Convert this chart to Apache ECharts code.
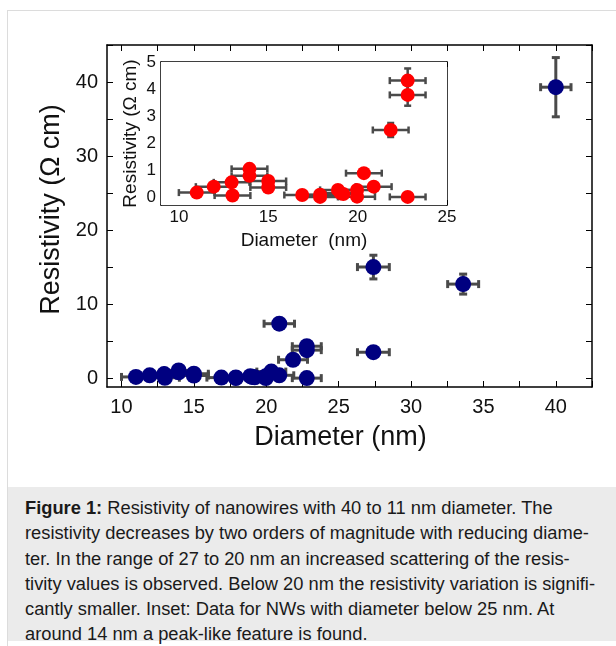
<!DOCTYPE html>
<html>
<head>
<meta charset="utf-8">
<script src="https://cdn.jsdelivr.net/npm/echarts@6/dist/echarts.min.js"></script>
<style>
  html, body { margin: 0; padding: 0; background: #fff; }
  #frame { position: absolute; left: 7px; top: 10px; width: 620px; height: 640px; border-left: 1px solid #dcdcdc; border-top: 1px solid #dcdcdc; }
  #chart { position: absolute; left: 0; top: 0; width: 616px; height: 484px; }
  #caption { position: absolute; left: 8px; top: 487px; width: 608px; height: 154px; background: #ebebeb;
    font-family: "Liberation Sans", Arial, sans-serif; font-size: 18.3px; line-height: 25.3px; color: #1a1a1a; }
  #caption div { position: absolute; left: 17px; top: 8px; white-space: nowrap; }
</style>
</head>
<body>
<div id="frame"></div>
<div id="chart"></div>
<div id="caption"><div><b>Figure 1:</b> Resistivity of nanowires with 40 to 11 nm diameter. The<br>resistivity decreases by two orders of magnitude with reducing diame-<br>ter. In the range of 27 to 20 nm an increased scattering of the resis-<br>tivity values is observed. Below 20 nm the resistivity variation is signifi-<br>cantly smaller. Inset: Data for NWs with diameter below 25 nm. At<br>around 14 nm a peak-like feature is found.</div></div>
<script>
// ---- data ----
const diameter    = [11.0, 11.95, 12.95, 13.0, 13.95, 13.95, 15.0, 15.0, 16.9, 17.9, 17.9, 18.9, 19.05, 19.2, 19.97, 19.97, 20.35, 20.9, 20.9, 21.85, 22.8, 22.8, 22.8, 27.4, 27.4, 33.6, 40.0];
const resistivity = [0.16, 0.38, 0.54, 0.05, 1.04, 0.78, 0.59, 0.35, 0.07, 0.08, 0.0, 0.26, 0.14, 0.11, 0.26, 0.01, 0.88, 0.38, 7.35, 2.48, 4.31, 3.78, 0.0, 15.0, 3.5, 12.7, 39.3];
const diameterErr = [1.0, 1.0, 1.0, 1.0, 1.0, 1.0, 1.0, 1.0, 1.0, 1.0, 1.0, 1.0, 1.0, 1.0, 1.0, 1.0, 1.0, 1.0, 1.05, 1.0, 1.0, 1.0, 1.0, 1.1, 1.1, 1.07, 1.05];
const resistivityErr = [0.04, 0.04, 0.04, 0.04, 0.05, 0.05, 0.04, 0.04, 0.03, 0.03, 0.03, 0.04, 0.04, 0.04, 0.04, 0.03, 0.06, 0.06, 0.3, 0.26, 0.45, 0.4, 0.05, 1.6, 0.3, 1.35, 4.0];

// tick labels
const mainXTicks = [10, 15, 20, 25, 30, 35, 40];
const mainXMinor = [10, 12.5, 15, 17.5, 20, 22.5, 25, 27.5, 30, 32.5, 35, 37.5, 40, 42.5];
const mainYTicks = [0, 10, 20, 30, 40];
const mainYMinor = [0, 5, 10, 15, 20, 25, 30, 35, 40, 45];
const insetXTicks = [10, 15, 20, 25];
const insetXMinor = [10, 12.5, 15, 17.5, 20, 22.5, 25];
const insetYTicks = [0, 1, 2, 3, 4, 5];
const insetYMinor = [0, 0.5, 1, 1.5, 2, 2.5, 3, 3.5, 4, 4.5, 5];

const FONT = '"Liberation Sans", Arial, sans-serif';
const allPts = diameter.map((d, i) => [d, resistivity[i], diameterErr[i], resistivityErr[i]]);
const insetPts = allPts.filter(p => p[0] < 25 && p[1] <= 5);

function errRenderer(cap, lw) {
  return function (params, api) {
    const x = api.value(0), y = api.value(1), ex = api.value(2), ey = api.value(3);
    const l = api.coord([x - ex, y]), r = api.coord([x + ex, y]);
    const t = api.coord([x, y + ey]), b = api.coord([x, y - ey]);
    const st = { stroke: '#4a4a4a', lineWidth: lw };
    const ln = (x1, y1, x2, y2) => ({ type: 'line', shape: { x1, y1, x2, y2 }, style: st });
    const ch = [
      ln(l[0], l[1], r[0], r[1]),
      ln(l[0], l[1] - cap, l[0], l[1] + cap),
      ln(r[0], r[1] - cap, r[0], r[1] + cap)
    ];
    if (b[1] - t[1] > 2) {
      ch.push(ln(t[0], t[1], b[0], b[1]));
      ch.push(ln(t[0] - cap, t[1], t[0] + cap, t[1]));
      ch.push(ln(b[0] - cap, b[1], b[0] + cap, b[1]));
    }
    return { type: 'group', children: ch };
  };
}

function xAx(grid, min, max, ticks, minor, pos, opts) {
  const showLbl = pos === 'bottom';
  return Object.assign({
    type: 'value', gridIndex: grid, min, max, position: pos,
    axisLine: { show: true, onZero: false, lineStyle: { color: '#000', width: 1.5 } },
    axisTick: { show: true, inside: true, length: opts.tick, customValues: minor, lineStyle: { color: '#000', width: 1 } },
    axisLabel: { show: showLbl, customValues: ticks, margin: opts.margin, fontSize: opts.fs, color: '#111', fontFamily: FONT },
    splitLine: { show: false }
  }, showLbl ? { name: opts.name, nameLocation: 'middle', nameGap: opts.nameGap,
    nameTextStyle: { fontSize: opts.nfs, color: '#111', fontFamily: FONT, padding: opts.pad || 0 } } : {});
}
function yAx(grid, min, max, ticks, minor, pos, opts) {
  const showLbl = pos === 'left';
  return Object.assign({
    type: 'value', gridIndex: grid, min, max, position: pos,
    axisLine: { show: true, onZero: false, lineStyle: { color: '#000', width: 1.5 } },
    axisTick: { show: true, inside: true, length: opts.tick, customValues: minor, lineStyle: { color: '#000', width: 1 } },
    axisLabel: { show: showLbl, customValues: ticks, margin: opts.margin, fontSize: opts.fs, color: '#111', fontFamily: FONT },
    splitLine: { show: false }
  }, showLbl ? { name: opts.name, nameLocation: 'middle', nameGap: opts.nameGap,
    nameTextStyle: { fontSize: opts.nfs, color: '#111', fontFamily: FONT, padding: opts.pad || 0 } } : {});
}

const mainX = { tick: 6, margin: 10, fs: 20, nfs: 27, name: 'Diameter (nm)', nameGap: 37, pad: [0, 18, 0, 0] };
const mainY = { tick: 6, margin: 9, fs: 20, nfs: 27, name: 'Resistivity (\u03A9 cm)', nameGap: 42, pad: [0, 0, 0, 13] };
const insX = { tick: 5, margin: 4, fs: 17, nfs: 19, name: 'Diameter  (nm)', nameGap: 26 };
const insY = { tick: 5, margin: 5, fs: 17, nfs: 19, name: 'Resistivity (\u03A9 cm)', nameGap: 21 };

const chart = echarts.init(document.getElementById('chart'), null, { renderer: 'canvas' });
chart.setOption({
  animation: false,
  backgroundColor: 'transparent',
  grid: [
    { left: 107, top: 45, width: 485, height: 342, show: false },
    { left: 161, top: 62, width: 286, height: 143, show: true, backgroundColor: '#fff', borderWidth: 0, z: 5 }
  ],
  xAxis: [
    xAx(0, 9, 42.5, mainXTicks, mainXMinor, 'bottom', mainX),
    xAx(0, 9, 42.5, mainXTicks, mainXMinor, 'top', mainX),
    xAx(1, 9, 25, insetXTicks, insetXMinor, 'bottom', insX),
    xAx(1, 9, 25, insetXTicks, insetXMinor, 'top', insX)
  ],
  yAxis: [
    yAx(0, -1.2, 45, mainYTicks, mainYMinor, 'left', mainY),
    yAx(0, -1.2, 45, mainYTicks, mainYMinor, 'right', mainY),
    yAx(1, -0.3, 5, insetYTicks, insetYMinor, 'left', insY),
    yAx(1, -0.3, 5, insetYTicks, insetYMinor, 'right', insY)
  ],
  series: [
    { type: 'custom', xAxisIndex: 0, yAxisIndex: 0, data: allPts, encode: { x: 0, y: 1 },
      renderItem: errRenderer(4, 3), clip: false, z: 2, silent: true },
    { type: 'scatter', xAxisIndex: 0, yAxisIndex: 0, data: allPts.map(p => [p[0], p[1]]),
      symbol: 'circle', symbolSize: 16, itemStyle: { color: '#000080', opacity: 1 }, z: 3 },
    { type: 'custom', xAxisIndex: 2, yAxisIndex: 2, data: insetPts, encode: { x: 0, y: 1 },
      renderItem: errRenderer(3.5, 2.5), clip: false, z: 6, silent: true },
    { type: 'scatter', xAxisIndex: 2, yAxisIndex: 2, data: insetPts.map(p => [p[0], p[1]]),
      symbol: 'circle', symbolSize: 14, itemStyle: { color: '#ff0000', opacity: 1 }, z: 7 }
  ]
});
</script>
</body>
</html>
